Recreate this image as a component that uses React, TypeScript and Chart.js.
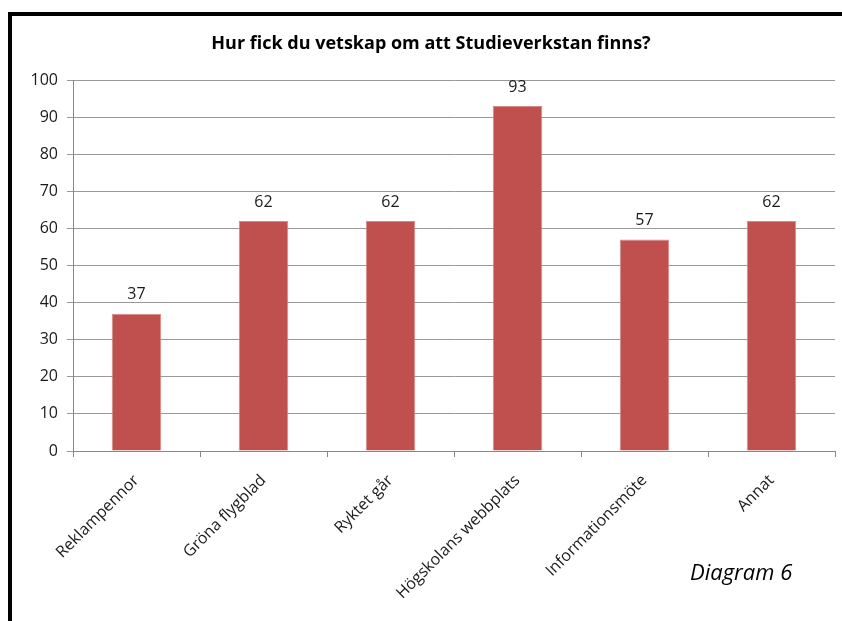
import React, { useEffect, useRef } from "react";
import { Chart, registerables } from "chart.js";

Chart.register(...registerables);

const categories = [
  "Reklampennor",
  "Gröna flygblad",
  "Ryktet går",
  "Högskolans webbplats",
  "Informationsmöte",
  "Annat",
];
const values = [37, 62, 62, 93, 57, 62];
const titleText = "Hur fick du vetskap om att Studieverkstan finns?";
const captionText = "Diagram 6";

const FONT = "'Open Sans', 'Noto Sans', sans-serif";

const labelPlugin = {
  id: "extras",
  afterDatasetsDraw(chart: any) {
    const ctx = chart.ctx;
    const meta = chart.getDatasetMeta(0);
    ctx.save();
    ctx.fillStyle = "#1a1a1a";
    ctx.font = `16px ${FONT}`;
    ctx.textAlign = "center";
    ctx.textBaseline = "middle";
    meta.data.forEach((bar: any, i: number) => {
      ctx.fillText(String(values[i]), bar.x, bar.y - 19);
    });
    ctx.font = `bold 18px ${FONT}`;
    ctx.fillStyle = "#000";
    ctx.fillText(titleText, 431, 44);
    ctx.font = `italic 22px ${FONT}`;
    ctx.textAlign = "left";
    ctx.fillText(captionText, 690, 574);
    ctx.restore();
  },
};

export default function App() {
  const ref = useRef<HTMLCanvasElement | null>(null);
  useEffect(() => {
    if (!ref.current) return;
    const chart = new Chart(ref.current, {
      type: "bar",
      data: {
        labels: categories,
        datasets: [
          {
            data: values,
            backgroundColor: "#C0504D",
            borderColor: "#D58A88",
            borderWidth: 1,
            barPercentage: 0.39,
            categoryPercentage: 1,
          },
        ],
      },
      options: {
        animation: false,
        responsive: false,
        devicePixelRatio: 1,
        layout: { padding: { left: 0, right: 7, top: 80, bottom: 0 } },
        plugins: {
          legend: { display: false },
          title: { display: false },
          tooltip: { enabled: false },
        },
        scales: {
          x: {
            grid: {
              display: true,
              drawOnChartArea: false,
              tickLength: 6,
              color: "#888",
              offset: true,
            },
            border: { color: "#888" },
            ticks: {
              minRotation: 45,
              maxRotation: 45,
              autoSkip: false,
              color: "#1a1a1a",
              font: { family: FONT, size: 16 },
              padding: 14,
            },
            afterFit(scale: any) {
              scale.height = 170;
            },
          },
          y: {
            min: 0,
            max: 100,
            ticks: {
              stepSize: 10,
              color: "#1a1a1a",
              font: { family: FONT, size: 16 },
              padding: 9,
            },
            grid: { color: "#999", tickLength: 6 },
            border: { color: "#888" },
            afterFit(scale: any) {
              scale.width = 73;
            },
          },
        },
      },
      plugins: [labelPlugin],
    });
    return () => chart.destroy();
  }, []);
  return (
    <div style={{ position: "fixed", left: 0, top: 0, width: 842, height: 621, background: "#fff" }}>
      <canvas ref={ref} width={842} height={621} style={{ position: "absolute", left: 0, top: 0 }} />
      <div
        style={{
          position: "absolute",
          left: 8,
          top: 12,
          width: 900,
          height: 700,
          borderLeft: "4px solid #000",
          borderTop: "4px solid #000",
          pointerEvents: "none",
        }}
      />
    </div>
  );
}
